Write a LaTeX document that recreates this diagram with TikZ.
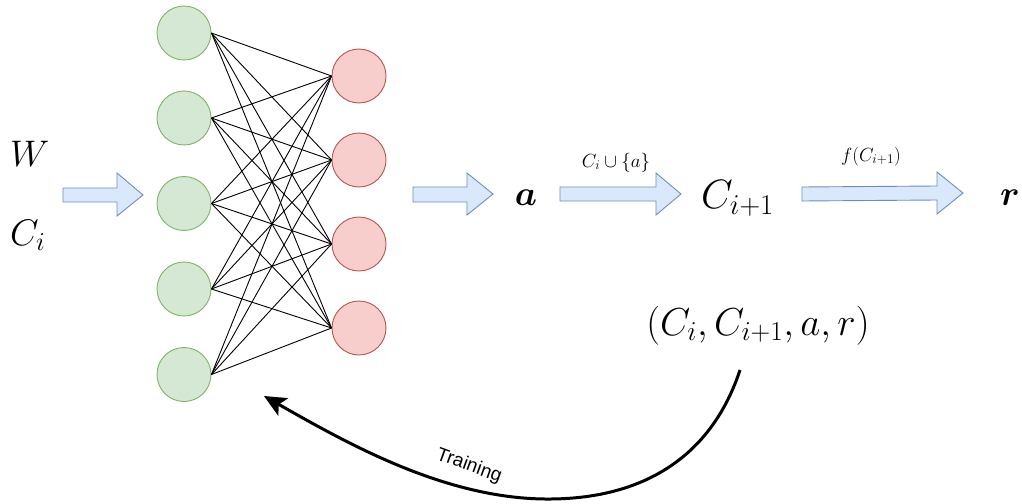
\RequirePackage{fix-cm}
\documentclass[tikz,border=0pt]{standalone}
\usepackage{amsmath,bm}
\usepackage{fontspec}
\newfontfamily\trainfont{Liberation Sans}
\usetikzlibrary{arrows.meta}
\definecolor{gfill}{HTML}{D5E8D4}
\definecolor{gdraw}{HTML}{82B366}
\definecolor{rfill}{HTML}{F8CECC}
\definecolor{rdraw}{HTML}{B85450}
\definecolor{bfill}{HTML}{DAE8FC}
\definecolor{bdraw}{HTML}{6C8EBF}
\tikzset{
  gnode/.style={circle,draw=gdraw,fill=gfill,line width=0.9pt,minimum size=54pt,inner sep=0pt},
  rnode/.style={circle,draw=rdraw,fill=rfill,line width=0.9pt,minimum size=54pt,inner sep=0pt},
  edge/.style={black,line width=0.9pt},
  blockarrow/.style={draw=bdraw,fill=bfill,line width=0.9pt,line join=miter},
  bigmath/.style={inner sep=0pt,font=\fontsize{37}{42}\selectfont},
  boldmath/.style={inner sep=0pt,font=\fontsize{35}{40}\selectfont},
  nextmath/.style={inner sep=0pt,font=\fontsize{41}{46}\selectfont},
  tuplemath/.style={inner sep=0pt,font=\fontsize{39}{44}\selectfont},
  smallmath/.style={inner sep=0pt,font=\fontsize{19}{22}\selectfont},
  trainlabel/.style={inner sep=0pt,font=\trainfont\fontsize{19}{22}\selectfont},
  curve/.style={line width=3pt,-{Stealth[length=22pt,width=20pt,inset=5pt]}}
}
\begin{document}
\begin{tikzpicture}[x=1pt,y=-1pt]
\useasboundingbox (0,0) rectangle (1022,503);
% green layer
\foreach \i/\y in {1/33,2/118,3/203.5,4/289,5/374.5}
  \node[gnode] (g\i) at (184,\y) {};
% red layer
\foreach \j/\y in {1/76,2/160,3/244,4/328}
  \node[rnode] (r\j) at (359,\y) {};
% connections
\foreach \i in {1,...,5}
  \foreach \j in {1,...,4}
    \draw[edge] (g\i.east) -- (r\j.west);
% inputs
\node[bigmath,anchor=base west] (W) at (10,166) {$W$};
\node[bigmath,anchor=base west] (Ci) at (10,245) {$C_i$};
% block arrows
\draw[blockarrow] (63,188) -- (117,188) -- (117,173) -- (143,195) -- (117,216) -- (117,202) -- (63,202) -- cycle;
\draw[blockarrow] (413,187) -- (467,187) -- (467,173) -- (493,194) -- (467,215) -- (467,202) -- (413,202) -- cycle;
\draw[blockarrow] (560,187) -- (656,187) -- (656,173) -- (681,194) -- (656,215) -- (656,201) -- (560,201) -- cycle;
\draw[blockarrow] (802,187) -- (937,186) -- (937,172) -- (963,193) -- (937,214) -- (937,200) -- (802,201) -- cycle;
% outputs
\node[boldmath,anchor=base] (a) at (526,205) {$\bm{a}$};
\node[nextmath,anchor=base west] (Cn) at (701,208) {$C_{i+1}$};
\node[boldmath,anchor=base] (r) at (1010,205) {$\bm{r}$};
\node[smallmath,anchor=base] (l1) at (616,167) {$C_i\cup\{a\}$};
\node[smallmath,anchor=base] (l2) at (871,161) {$f(C_{i+1})$};
\node[tuplemath,anchor=base] (tuple) at (758,335) {$(C_i,C_{i+1},a,r)$};
% training curve
\coordinate (ts) at (740,370);
\coordinate (te) at (264,396);
\draw[curve] (ts) .. controls (712,455) and (645,500) .. (545,499)
             .. controls (445,498) and (350,445) .. (te);
\node[trainlabel,rotate=-20] (train) at (469,466) {Training};
\end{tikzpicture}
\end{document}
